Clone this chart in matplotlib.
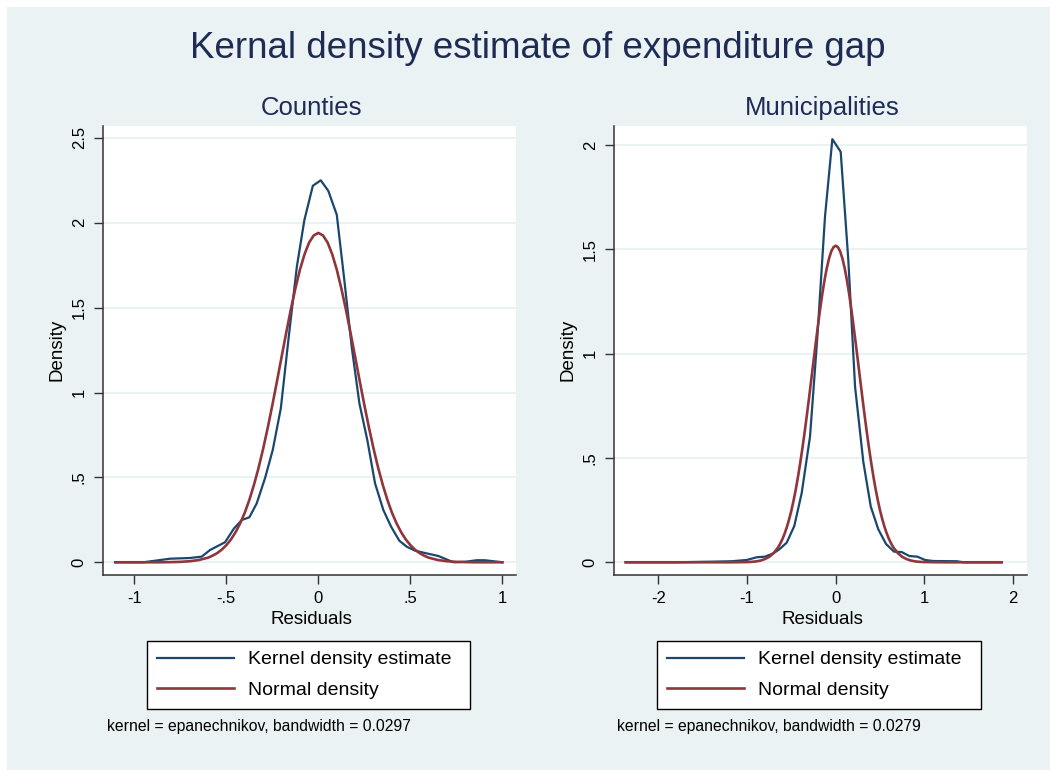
import matplotlib
matplotlib.use("Agg")
import matplotlib.pyplot as plt
from matplotlib.patches import Rectangle

plt.rcParams['font.family'] = ['Liberation Sans', 'DejaVu Sans']

# ---------------- data ----------------
# Counties: kernel density estimate
cty_kde_x = [-1.105, -0.95, -0.806, -0.70, -0.634, -0.589, -0.507, -0.458, -0.416, -0.375,
             -0.335, -0.29, -0.248, -0.204, -0.163, -0.117, -0.076, -0.03, 0.013, 0.054,
             0.10, 0.141, 0.181, 0.223, 0.266, 0.308, 0.353, 0.395, 0.44, 0.48,
             0.526, 0.59, 0.652, 0.734, 0.80, 0.861, 0.904, 1.0]
cty_kde_y = [0.0, 0.0, 0.021, 0.025, 0.033, 0.072, 0.118, 0.20, 0.249, 0.265,
             0.347, 0.495, 0.661, 0.907, 1.309, 1.741, 2.016, 2.218, 2.25, 2.188,
             2.047, 1.663, 1.27, 0.936, 0.72, 0.465, 0.308, 0.21, 0.127, 0.092,
             0.068, 0.052, 0.037, 0.0, 0.003, 0.012, 0.012, 0.0]
# Counties: normal density
cty_norm_x = [-1.1, -1.0, -0.9, -0.85, -0.8, -0.75, -0.7, -0.65, -0.6, -0.575, -0.55, -0.525,
              -0.5, -0.475, -0.45, -0.425, -0.4, -0.375, -0.35, -0.325, -0.3, -0.275, -0.25,
              -0.225, -0.2, -0.175, -0.15, -0.125, -0.1, -0.075, -0.05, -0.025, 0.0,
              0.025, 0.05, 0.075, 0.1, 0.125, 0.15, 0.175, 0.2, 0.225, 0.25, 0.275, 0.3,
              0.325, 0.35, 0.375, 0.4, 0.425, 0.45, 0.475, 0.5, 0.525, 0.55, 0.575, 0.6,
              0.65, 0.7, 0.75, 0.8, 0.85, 0.9, 1.0]
cty_norm_y = [0.0, 0.0, 0.0, 0.0, 0.001, 0.0025, 0.006, 0.013, 0.027, 0.0388, 0.054, 0.0744,
              0.101, 0.1345, 0.177, 0.229, 0.292, 0.3676, 0.456, 0.5561, 0.669, 0.793, 0.926,
              1.0659, 1.209, 1.3504, 1.487, 1.6126, 1.724, 1.8151, 1.884, 1.9257, 1.94,
              1.9257, 1.884, 1.8151, 1.724, 1.6126, 1.487, 1.3504, 1.209, 1.0659, 0.926, 0.793, 0.669,
              0.5561, 0.456, 0.3676, 0.292, 0.229, 0.177, 0.1345, 0.101, 0.0744, 0.054, 0.0388, 0.027,
              0.013, 0.006, 0.0025, 0.001, 0.0, 0.0, 0.0]

# Municipalities: kernel density estimate
mun_kde_x = [-2.368, -1.8, -1.38, -1.172, -1.003, -0.891, -0.797, -0.703, -0.636, -0.553,
             -0.467, -0.384, -0.29, -0.207, -0.121, -0.038, 0.056, 0.142, 0.218, 0.311,
             0.395, 0.48, 0.567, 0.657, 0.744, 0.83, 0.92, 1.007, 1.10, 1.364, 1.44, 1.871]
mun_kde_y = [0.0, 0.0, 0.003, 0.005, 0.011, 0.024, 0.027, 0.043, 0.062, 0.094,
             0.174, 0.331, 0.602, 1.081, 1.657, 2.029, 1.968, 1.449, 0.842, 0.482,
             0.267, 0.158, 0.088, 0.051, 0.049, 0.030, 0.027, 0.011, 0.006, 0.005, 0.0, 0.0]
# Municipalities: normal density
mun_norm_x = [-2.368, -1.2, -1.0, -0.95, -0.9, -0.85, -0.8, -0.75, -0.7, -0.65, -0.625, -0.6,
              -0.575, -0.55, -0.525, -0.5, -0.475, -0.45, -0.425, -0.4, -0.375, -0.35, -0.325,
              -0.3, -0.275, -0.25, -0.225, -0.2, -0.175, -0.15, -0.125, -0.1, -0.075, -0.05,
              -0.025, 0.0, 0.025, 0.05, 0.075, 0.1, 0.125, 0.15, 0.175, 0.2, 0.225, 0.25,
              0.275, 0.3, 0.325, 0.35, 0.375, 0.4, 0.425, 0.45, 0.475, 0.5, 0.525, 0.55,
              0.575, 0.6, 0.625, 0.65, 0.7, 0.75, 0.8, 0.85, 0.9, 0.95, 1.0, 1.2, 1.871]
mun_norm_y = [0.0, 0.0, 0.001, 0.002, 0.004, 0.008, 0.015, 0.026, 0.044, 0.071, 0.0898, 0.112,
              0.1386, 0.170, 0.2064, 0.248, 0.2965, 0.350, 0.4106, 0.477, 0.5485, 0.625, 0.7067,
              0.791, 0.8781, 0.966, 1.0522, 1.136, 1.2161, 1.290, 1.3557, 1.412, 1.4574, 1.491,
              1.5111, 1.518, 1.5111, 1.491, 1.4574, 1.412, 1.3557, 1.290, 1.2161, 1.136, 1.0522, 0.966,
              0.8781, 0.791, 0.7067, 0.625, 0.5485, 0.477, 0.4106, 0.350, 0.2965, 0.248, 0.2064, 0.170,
              0.1386, 0.112, 0.0898, 0.071, 0.044, 0.026, 0.015, 0.008, 0.004, 0.002, 0.001, 0.0, 0.0]

cty_xticks = [-1, -0.5, 0, 0.5, 1]
cty_xticklabels = ["-1", "-.5", "0", ".5", "1"]
cty_yticks = [0, 0.5, 1, 1.5, 2, 2.5]
cty_yticklabels = ["0", ".5", "1", "1.5", "2", "2.5"]
mun_xticks = [-2, -1, 0, 1, 2]
mun_xticklabels = ["-2", "-1", "0", "1", "2"]
mun_yticks = [0, 0.5, 1, 1.5, 2]
mun_yticklabels = ["0", ".5", "1", "1.5", "2"]

title = "Kernal density estimate of expenditure gap"
panel_titles = ["Counties", "Municipalities"]
legend_labels = ["Kernel density estimate", "Normal density"]
notes = ["kernel = epanechnikov, bandwidth = 0.0297",
         "kernel = epanechnikov, bandwidth = 0.0279"]

# ---------------- style ----------------
W, H = 1050, 770
BG = "#EAF2F3"
NAVY = "#1E2B55"
BLUE = "#1A476F"
RED = "#90353B"
SPINE = "#333333"

fig = plt.figure(figsize=(W / 100, H / 100), dpi=100)
fig.patch.set_facecolor("white")
fig.patches.append(Rectangle((7 / W, 0), 1 - 7 / W, 1 - 7 / H, transform=fig.transFigure,
                             facecolor=BG, edgecolor="none", zorder=-10))

def fx(px):
    return px / W

def fy(py):
    return 1 - py / H

fig.text(fx(538), fy(49), title, ha="center", va="center", fontsize=26.5, color=NAVY)

panels = [
    dict(left=102.7, right=516, xlim=(-1.172, 1.074), ylim=(-0.075, 2.57),
         kx=cty_kde_x, ky=cty_kde_y, nx=cty_norm_x, ny=cty_norm_y,
         xt=cty_xticks, xtl=cty_xticklabels, yt=cty_yticks, ytl=cty_yticklabels,
         leg=(147.3, 470.0), note_x=106.7, dens_x=57),
    dict(left=613.7, right=1026.7, xlim=(-2.503, 2.153), ylim=(-0.061, 2.092),
         kx=mun_kde_x, ky=mun_kde_y, nx=mun_norm_x, ny=mun_norm_y,
         xt=mun_xticks, xtl=mun_xticklabels, yt=mun_yticks, ytl=mun_yticklabels,
         leg=(657.3, 980.7), note_x=616.7, dens_x=568),
]

top, bottom = 126, 575
for i, p in enumerate(panels):
    ax = fig.add_axes([fx(p["left"]), fy(bottom), (p["right"] - p["left"]) / W, (bottom - top) / H])
    ax.set_facecolor("white")
    ax.plot(p["kx"], p["ky"], color=BLUE, lw=1.6, zorder=3, label=legend_labels[0])
    ax.plot(p["nx"], p["ny"], color=RED, lw=1.9, zorder=3, label=legend_labels[1])
    ax.set_xlim(*p["xlim"])
    ax.set_ylim(*p["ylim"])
    ax.set_xticks(p["xt"])
    ax.set_xticklabels(p["xtl"])
    ax.set_yticks(p["yt"])
    ax.set_yticklabels(p["ytl"], rotation=90, va="center")
    for s in ("top", "right"):
        ax.spines[s].set_visible(False)
    for s in ("left", "bottom"):
        ax.spines[s].set_color(SPINE)
        ax.spines[s].set_linewidth(1.1)
    ax.tick_params(axis="both", direction="out", length=6.5, width=1.0, color=SPINE,
                   labelsize=12, labelcolor="black", pad=5)
    ax.yaxis.grid(True, color=BG, lw=1.4)
    ax.set_axisbelow(True)

    cx = (p["left"] + p["right"]) / 2
    fig.text(fx(cx + 2), fy(108), panel_titles[i], ha="center", va="center", fontsize=18.5, color=NAVY)
    fig.text(fx(cx + 2), fy(620), "Residuals", ha="center", va="center", fontsize=13.5)
    fig.text(fx(p["dens_x"]), fy(350), "Density", ha="center", va="center", fontsize=13.5, rotation=90)

    l0, l1 = p["leg"]
    leg = ax.legend(loc="upper left",
                    bbox_to_anchor=(fx(l0), fy(707.7), (l1 - l0) / W, (707.7 - 641) / H),
                    bbox_transform=fig.transFigure, mode="expand", borderaxespad=0,
                    fontsize=14, frameon=True, fancybox=False, edgecolor="black",
                    handlelength=3.95, handletextpad=0.75, labelspacing=0.68, borderpad=0.5)
    leg.get_frame().set_linewidth(1.0)
    leg.get_frame().set_facecolor("white")
    leg.get_frame().set_alpha(1)

    fig.text(fx(p["note_x"]), fy(726), notes[i], ha="left", va="center", fontsize=11.3)

fig.savefig("out.png", dpi=100, facecolor=fig.get_facecolor())
